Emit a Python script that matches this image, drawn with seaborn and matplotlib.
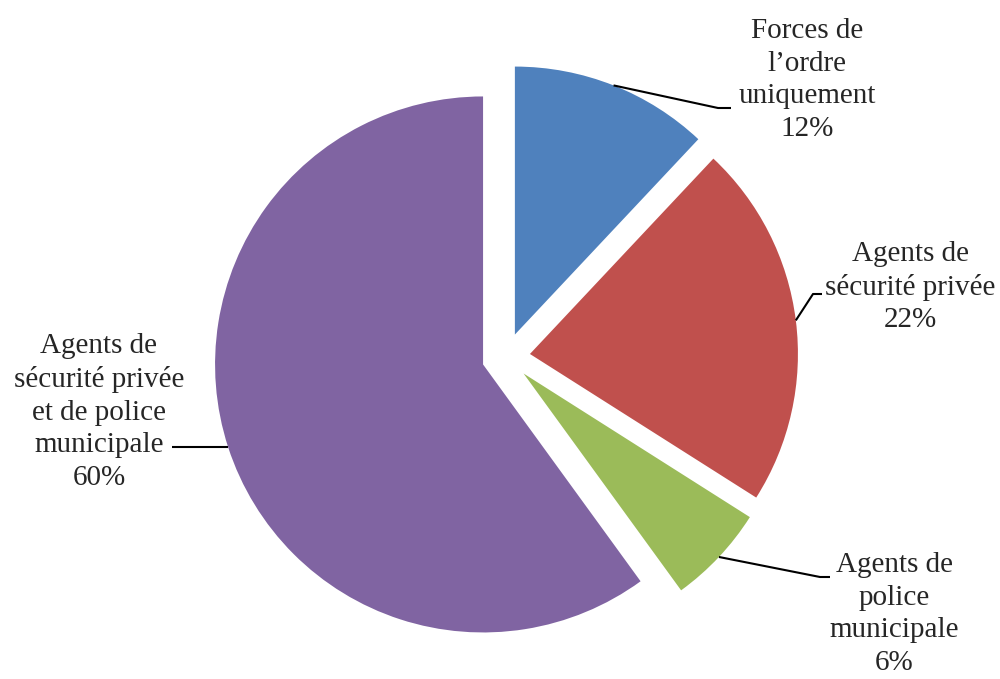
import numpy as np
import seaborn as sns
import matplotlib.pyplot as plt

# data
categories = ["Forces de\nl\u2019ordre\nuniquement",
              "Agents de\ns\u00e9curit\u00e9 priv\u00e9e",
              "Agents de\npolice\nmunicipale",
              "Agents de\ns\u00e9curit\u00e9 priv\u00e9e\net de police\nmunicipale"]
shares = [12, 22, 6, 60]
hex_colors = ["#4F81BD", "#C0504D", "#9BBB59", "#8064A2"]

sns.set_style("white")
plt.rcParams['font.family'] = ['Liberation Serif', 'DejaVu Serif']
palette = sns.color_palette(hex_colors)

W, H = 1000, 679
CX, CY, R = 506, 357, 268  # pie centre and radius in pixels


def to_data(px, py):
    return (px - CX) / R, (CY - py) / R


fig = plt.figure(figsize=(W / 100, H / 100), dpi=100)
ax = fig.add_axes([0, 0, 1, 1])
wedges, _ = ax.pie(shares, colors=palette, startangle=90, counterclock=False,
                   explode=[0.09] * len(shares), wedgeprops=dict(linewidth=0))
ax.set_aspect('auto')
ax.set_xlim(-CX / R, (W - CX) / R)
ax.set_ylim(-(H - CY) / R, CY / R)
ax.axis('off')

# label layout (pixels): text centre, elbow of leader line, end of leader line
label_pos = [(807, 80), (910, 287), (894, 614), (99, 412)]
elbows = [(718, 108), (813, 294), (820, 577), None]
ends = [(731, 108), (822, 294), (830, 577), (172, None)]

for w, cat, val, tp, el, en in zip(wedges, categories, shares, label_pos, elbows, ends):
    mid = np.deg2rad((w.theta1 + w.theta2) / 2)
    ax_, ay_ = w.center[0] + w.r * np.cos(mid), w.center[1] + w.r * np.sin(mid)
    if el is None:
        ex, _ = to_data(en[0], 0)
        xs, ys = [ax_, ex], [ay_, ay_]
    else:
        e1 = to_data(*el)
        e2 = to_data(*en)
        xs, ys = [ax_, e1[0], e2[0]], [ay_, e1[1], e2[1]]
    ax.plot(xs, ys, color="black", lw=1.5, solid_capstyle="butt")
    tx, ty = to_data(*tp)
    ax.text(tx, ty, f"{cat}\n{val}%", ha="center", va="center",
            multialignment="center", fontsize=21, linespacing=1.33)

fig.savefig("out.png", dpi=100)
